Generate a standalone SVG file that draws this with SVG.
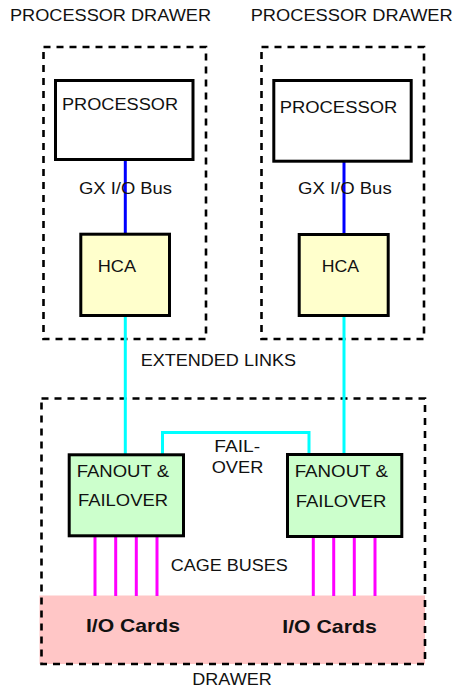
<svg xmlns="http://www.w3.org/2000/svg" width="458" height="688" viewBox="0 0 458 688">
  <style>
    text { font-family: "Liberation Sans", Arial, sans-serif; font-size: 16px; fill: #111; }
    .bold { font-weight: bold; font-size: 18.5px; }
    .dash { fill: none; stroke: #000; stroke-width: 2.6; stroke-dasharray: 7 6; }
    .box { stroke: #000; stroke-width: 3; }
    .proc { fill: #fff; }
    .hca { fill: #FFFFCC; }
    .fan { fill: #CCFFCC; }
    .gx { stroke: #0000FF; stroke-width: 3; fill: none; }
    .ext { stroke: #00FFFF; stroke-width: 3; fill: none; }
    .cage { stroke: #FF00FF; stroke-width: 3; fill: none; }
  </style>

  <rect width="458" height="688" fill="#fff"/>

  <!-- drawer enclosures -->
  <g id="drawer-left">
    <rect class="dash" x="43.5" y="47" width="162.5" height="292"/>
    <text x="10" y="21" textLength="201" lengthAdjust="spacingAndGlyphs">PROCESSOR DRAWER</text>
  </g>
  <g id="drawer-right">
    <rect class="dash" x="261.5" y="47" width="162.5" height="292"/>
    <text x="250.7" y="21" textLength="202" lengthAdjust="spacingAndGlyphs">PROCESSOR DRAWER</text>
  </g>
  <g id="io-drawer">
    <rect x="39.5" y="595.5" width="385.5" height="68.5" fill="#FFC6C6"/>
    <rect class="dash" x="41.5" y="398.5" width="383.5" height="265.5"/>
    <text x="192.3" y="685" textLength="79.4" lengthAdjust="spacingAndGlyphs">DRAWER</text>
  </g>

  <!-- connectors -->
  <g id="connectors">
    <line class="gx" x1="125.3" y1="160" x2="125.3" y2="234"/>
    <line class="gx" x1="344" y1="161" x2="344" y2="234"/>
    <line class="ext" x1="125.3" y1="316" x2="125.3" y2="454"/>
    <line class="ext" x1="344" y1="316" x2="344" y2="454"/>
    <path class="ext" d="M162.5 454 V432.5 H309 V454"/>
    <line class="cage" x1="95" y1="537" x2="95" y2="596"/>
    <line class="cage" x1="115.7" y1="537" x2="115.7" y2="596"/>
    <line class="cage" x1="136.3" y1="537" x2="136.3" y2="596"/>
    <line class="cage" x1="157" y1="537" x2="157" y2="596"/>
    <line class="cage" x1="313.3" y1="537" x2="313.3" y2="596"/>
    <line class="cage" x1="333.7" y1="537" x2="333.7" y2="596"/>
    <line class="cage" x1="354.3" y1="537" x2="354.3" y2="596"/>
    <line class="cage" x1="375" y1="537" x2="375" y2="596"/>
  </g>

  <!-- connector labels -->
  <g id="labels">
    <text x="79" y="194" textLength="93" lengthAdjust="spacingAndGlyphs">GX I/O Bus</text>
    <text x="298" y="194" textLength="93.7" lengthAdjust="spacingAndGlyphs">GX I/O Bus</text>
    <text x="140.7" y="366" textLength="155.3" lengthAdjust="spacingAndGlyphs">EXTENDED LINKS</text>
    <text x="214.3" y="451.7" textLength="45.7" lengthAdjust="spacingAndGlyphs">FAIL-</text>
    <text x="211.7" y="473.3" textLength="51.6" lengthAdjust="spacingAndGlyphs">OVER</text>
    <text x="170.7" y="571" textLength="117" lengthAdjust="spacingAndGlyphs">CAGE BUSES</text>
  </g>

  <!-- nodes -->
  <g id="processor-left">
    <rect class="box proc" x="55.5" y="80.5" width="137.5" height="79"/>
    <text x="62" y="110" textLength="116" lengthAdjust="spacingAndGlyphs">PROCESSOR</text>
  </g>
  <g id="processor-right">
    <rect class="box proc" x="273.8" y="80.5" width="137.4" height="80.7"/>
    <text x="279.7" y="113" textLength="117.6" lengthAdjust="spacingAndGlyphs">PROCESSOR</text>
  </g>
  <g id="hca-left">
    <rect class="box hca" x="80.8" y="234.2" width="88.7" height="81.3"/>
    <text x="97.7" y="272" textLength="38.3" lengthAdjust="spacingAndGlyphs">HCA</text>
  </g>
  <g id="hca-right">
    <rect class="box hca" x="299.2" y="234.5" width="89" height="81"/>
    <text x="321.7" y="272" textLength="37.3" lengthAdjust="spacingAndGlyphs">HCA</text>
  </g>
  <g id="fanout-left">
    <rect class="box fan" x="69.2" y="454.8" width="114.3" height="81"/>
    <text x="76.7" y="477" textLength="92.3" lengthAdjust="spacingAndGlyphs">FANOUT &amp;</text>
    <text x="78" y="505.7" textLength="90" lengthAdjust="spacingAndGlyphs">FAILOVER</text>
  </g>
  <g id="fanout-right">
    <rect class="box fan" x="287.5" y="454.5" width="114.3" height="82"/>
    <text x="294.7" y="477" textLength="93.3" lengthAdjust="spacingAndGlyphs">FANOUT &amp;</text>
    <text x="295.7" y="506.5" textLength="90.6" lengthAdjust="spacingAndGlyphs">FAILOVER</text>
  </g>
  <g id="io-cards-left">
    <text class="bold" x="86" y="632" textLength="94" lengthAdjust="spacingAndGlyphs">I/O Cards</text>
  </g>
  <g id="io-cards-right">
    <text class="bold" x="282.3" y="633" textLength="94.4" lengthAdjust="spacingAndGlyphs">I/O Cards</text>
  </g>
</svg>
